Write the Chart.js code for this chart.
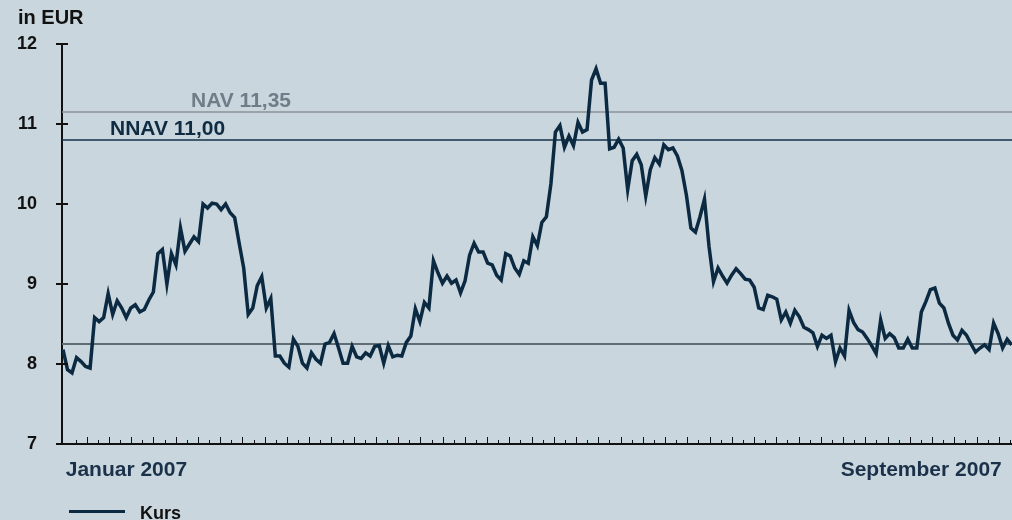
<!DOCTYPE html>
<html>
<head>
<meta charset="utf-8">
<script src="https://cdn.jsdelivr.net/npm/chart.js@4.4.1/dist/chart.umd.min.js"></script>
<style>
  html, body { margin: 0; padding: 0; background: #c9d6dd; }
  #wrap { width: 1012px; height: 520px; position: relative; }
</style>
</head>
<body>
<div id="wrap"><canvas id="chartKurs"></canvas></div>
<script>
// Kurs, one value per trading day (Januar - September 2007)
const kurs = [
  8.18, 7.93, 7.89, 8.08, 8.03, 7.97, 7.95, 8.58, 8.53, 8.58, 8.88, 8.62, 8.79, 8.70, 8.58, 8.70, 8.74, 8.65, 8.68, 8.80,
  8.90, 9.38, 9.43, 9.00, 9.38, 9.24, 9.70, 9.41, 9.50, 9.59, 9.53, 10.00, 9.95, 10.01, 10.00,
  9.93, 10.00, 9.89, 9.83, 9.51, 9.20, 8.62, 8.70, 8.98, 9.09, 8.70, 8.82, 8.10, 8.10, 8.01, 7.96, 8.31, 8.22, 8.01, 7.95,
  8.14, 8.06, 8.01, 8.25, 8.27, 8.38, 8.20, 8.01, 8.01, 8.22, 8.09, 8.07, 8.14, 8.10,
  8.22, 8.23, 8.01, 8.23, 8.09, 8.11, 8.10, 8.27, 8.35, 8.69, 8.53, 8.77, 8.70, 9.29, 9.14, 9.01, 9.10, 9.01, 9.05, 8.89,
  9.04, 9.36, 9.51, 9.40, 9.40, 9.26, 9.24, 9.11, 9.05, 9.38, 9.35, 9.20, 9.12, 9.29, 9.26,
  9.59, 9.48, 9.77, 9.84, 10.25, 10.90, 10.98, 10.71, 10.85, 10.73, 11.02, 10.90, 10.93, 11.55, 11.69, 11.51, 11.51,
  10.69, 10.71, 10.81, 10.70, 10.18, 10.54, 10.62, 10.49, 10.10, 10.43, 10.58, 10.50, 10.74, 10.68, 10.70, 10.60, 10.42,
  10.11, 9.70, 9.65, 9.84, 10.06, 9.47, 9.03, 9.20, 9.10, 9.01, 9.11, 9.19, 9.13, 9.06, 9.05, 8.96, 8.70, 8.68, 8.86, 8.84,
  8.81, 8.55, 8.65, 8.51, 8.67, 8.59, 8.46, 8.43, 8.39, 8.22, 8.36, 8.32, 8.36, 8.03, 8.20, 8.10, 8.67, 8.52, 8.43, 8.40,
  8.32, 8.23, 8.13, 8.55, 8.32, 8.38, 8.33, 8.20, 8.20, 8.31, 8.20, 8.20, 8.65, 8.78, 8.93, 8.95, 8.76, 8.70, 8.51, 8.36,
  8.30, 8.42, 8.36, 8.25, 8.15, 8.20, 8.24, 8.18, 8.51, 8.38, 8.20, 8.31, 8.24
];
const yTicks = [7, 8, 9, 10, 11, 12];
const xLabels = ["Januar 2007", "September 2007"];
const xLabelAt = [0.6, 207.8];
const refNames = ["NAV 11,35", "NNAV 11,00", ""];
const refValues = [11.15, 10.8, 8.25];
const refColors = ["#8b9296", "#12324a", "#5e6c73"];
const refLabelColors = ["#6f7d88", "#0e2b42", ""];
const xMin = -0.22, xMax = 210.07;

const FONT = "'Liberation Sans', Arial, sans-serif";

const extras = {
  id: "extras",
  afterDraw(chart) {
    const { ctx, scales: { x, y } } = chart;
    ctx.save();
    // y tick marks crossing the axis
    ctx.strokeStyle = "#111";
    ctx.lineWidth = 2;
    yTicks.forEach(v => {
      const py = Math.round(y.getPixelForValue(v));
      ctx.beginPath();
      ctx.moveTo(x.left - 6, py);
      ctx.lineTo(x.left + 6, py);
      ctx.stroke();
    });
    // minor ticks on the time axis, alternating long / short
    ctx.lineWidth = 1;
    for (let j = 0; ; j++) {
      const v = 2.79 + j * 2.462;
      if (v > xMax) break;
      const px = Math.round(x.getPixelForValue(v)) + 0.5;
      const len = j % 2 ? 7 : 4;
      ctx.beginPath();
      ctx.moveTo(px, y.bottom);
      ctx.lineTo(px, y.bottom - len);
      ctx.stroke();
    }
    // reference line labels
    ctx.font = "bold 21px " + FONT;
    ctx.textBaseline = "alphabetic";
    ctx.textAlign = "left";
    const refX = [191, 110];
    refNames.forEach((n, i) => {
      if (!n) return;
      ctx.fillStyle = refLabelColors[i];
      ctx.fillText(n, refX[i], y.getPixelForValue(refValues[i]) - 5);
    });
    // unit
    ctx.fillStyle = "#111";
    ctx.font = "bold 20px " + FONT;
    ctx.fillText("in EUR", 18, 24);
    // legend
    ctx.strokeStyle = "#0b2a42";
    ctx.lineWidth = 3;
    ctx.beginPath();
    ctx.moveTo(69, 511.5);
    ctx.lineTo(125, 511.5);
    ctx.stroke();
    ctx.font = "bold 18px " + FONT;
    ctx.fillStyle = "#111";
    ctx.fillText("Kurs", 140, 519);
    ctx.restore();
  }
};

const datasets = [{
  label: "Kurs",
  data: kurs.map((v, i) => ({ x: i, y: v })),
  borderColor: "#0b2a42",
  borderWidth: 3.5,
  pointRadius: 0,
  tension: 0,
  fill: false,
  order: 0
}];
refValues.forEach((v, i) => {
  datasets.push({
    label: refNames[i] || "ref",
    data: [{ x: xMin, y: v }, { x: xMax, y: v }],
    borderColor: refColors[i],
    borderWidth: i === 2 ? 2 : 1.6,
    pointRadius: 0,
    fill: false,
    order: 1
  });
});

new Chart(document.querySelector("#chartKurs"), {
  type: "line",
  data: { datasets: datasets },
  options: {
    responsive: true,
    maintainAspectRatio: false,
    animation: false,
    layout: { padding: { top: 44, left: 0, right: 0, bottom: 0 } },
    scales: {
      x: {
        type: "linear",
        min: xMin,
        max: xMax,
        afterBuildTicks: s => { s.ticks = xLabelAt.map(v => ({ value: v })); },
        afterFit: s => { s.height = 76; },
        grid: { display: false, drawTicks: true, tickLength: 14 },
        border: { display: true, color: "#111", width: 2 },
        ticks: {
          autoSkip: false,
          maxRotation: 0,
          align: "inner",
          padding: 0,
          color: "#1a3149",
          font: { family: FONT, size: 21, weight: "bold" },
          callback: (v, i) => xLabels[i]
        }
      },
      y: {
        min: 7,
        max: 12,
        afterFit: s => { s.width = 62; },
        grid: { display: false, drawTicks: false },
        border: { display: true, color: "#111", width: 2 },
        ticks: {
          stepSize: 1,
          padding: 25,
          color: "#111",
          font: { family: FONT, size: 18, weight: "bold" }
        }
      }
    },
    plugins: {
      legend: { display: false },
      tooltip: { enabled: false }
    }
  },
  plugins: [extras]
});
</script>
</body>
</html>
